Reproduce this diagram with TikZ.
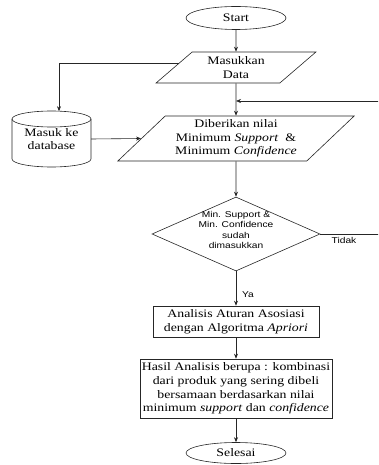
\documentclass[tikz,border=0pt]{standalone}
\usepackage{fontspec}
\setmainfont{Liberation Serif}[FakeStretch=1.2]
\newfontfamily\dsans{Liberation Sans}[FakeStretch=1.2]
\usetikzlibrary{shapes.geometric,arrows.meta,calc}
\newcommand\boxfont{\fontsize{11.5}{13.6}\selectfont}
\newcommand\decfont{\dsans\fontsize{8.5}{10.6}\selectfont}
\begin{document}
\begin{tikzpicture}[x=1pt,y=1pt,
  line/.style={draw=black!85, line width=0.6pt},
  arr/.style={line, -{Stealth[length=5pt,width=4pt]}},
  term/.style={ellipse, line, minimum width=100pt, inner sep=0pt, font=\boxfont},
  io/.style={trapezium, line, trapezium stretches=true, inner sep=1pt, align=center, font=\boxfont},
  proc/.style={rectangle, line, inner sep=0pt, align=center, font=\boxfont},
  plain/.style={inner sep=0pt, align=center, font=\boxfont},
  dec/.style={diamond, line, inner sep=0pt, minimum width=168pt, minimum height=74pt},
  dectext/.style={inner sep=0pt, align=center, font=\decfont},
  lbl/.style={inner sep=0pt, font=\decfont}
]
\useasboundingbox (0,0) rectangle (378,-465);
\clip (0,0) rectangle (378,-465);

% nodes
\node[term, minimum height=23pt] (start) at (236,-18) {Start};
\node[io, minimum width=160pt, minimum height=31pt,
      trapezium left angle=44.1, trapezium right angle=135.9] (mas) at (236,-67.5) {Masukkan\\Data};
\node[io, minimum width=237pt, minimum height=45pt,
      trapezium left angle=43.8, trapezium right angle=136.2] (dib) at (236,-138.5)
      {Diberikan nilai\\Minimum \textit{Support} \ \&\\Minimum \textit{Confidence}};
\node[dec] (dec) at (236,-234) {};
\node[dectext] (dect) at (236,-230) {Min. Support \&\\Min. Confidence\\sudah\\dimasukkan};
\node[proc, minimum width=166pt, minimum height=31pt] (ana) at (236,-321.5)
      {Analisis Aturan Asosiasi\\dengan Algoritma \textit{Apriori}};
\node[proc, minimum width=192pt, minimum height=59pt] (has) at (236,-388.5)
      {Hasil Analisis berupa : kombinasi\\dari produk yang sering dibeli\\bersamaan berdasarkan nilai\\minimum \textit{support} dan \textit{confidence}};
\node[term, minimum height=21pt] (end) at (236,-453) {Selesai};

% database cylinder
\draw[line] (12,-119) -- (12,-159) arc[start angle=180, end angle=360, x radius=39.5pt, y radius=8pt] -- (91,-119);
\draw[line] (51.5,-119) ellipse[x radius=39.5pt, y radius=8pt];
\node[plain, minimum width=79pt] (db) at (51.5,-139) {Masuk ke\\database};

\node[lbl] (tidak) at (344,-240) {Tidak};
\node[lbl] (ya) at (248,-295) {Ya};

% helper coordinates
\coordinate (masL) at ($(mas.bottom left corner)!0.645!(mas.top left corner)$);
\coordinate (dbTop) at (59,-111.2);
\coordinate (dibL) at ($(dib.bottom left corner)!0.5!(dib.top left corner)$);
\coordinate (fb) at (236,-101);
\coordinate (rt) at (395,-234);
\coordinate (rtTop) at (395,-101);

% connectors
\draw[arr] (start.south) -- (mas.north);
\draw[arr] (mas.south) -- (dib.north);
\draw[arr] (masL) -| (dbTop);
\draw[arr] (db.east) -- (dibL);
\draw[arr] (dib.south) -- (dec.north);
\draw[line] (dec.east) -- (rt) -- (rtTop);
\draw[arr] (rtTop) -- (fb);
\draw[arr] (dec.south) -- (ana.north);
\draw[arr] (ana.south) -- (has.north);
\draw[arr] (has.south) -- (end.north);
\end{tikzpicture}
\end{document}
